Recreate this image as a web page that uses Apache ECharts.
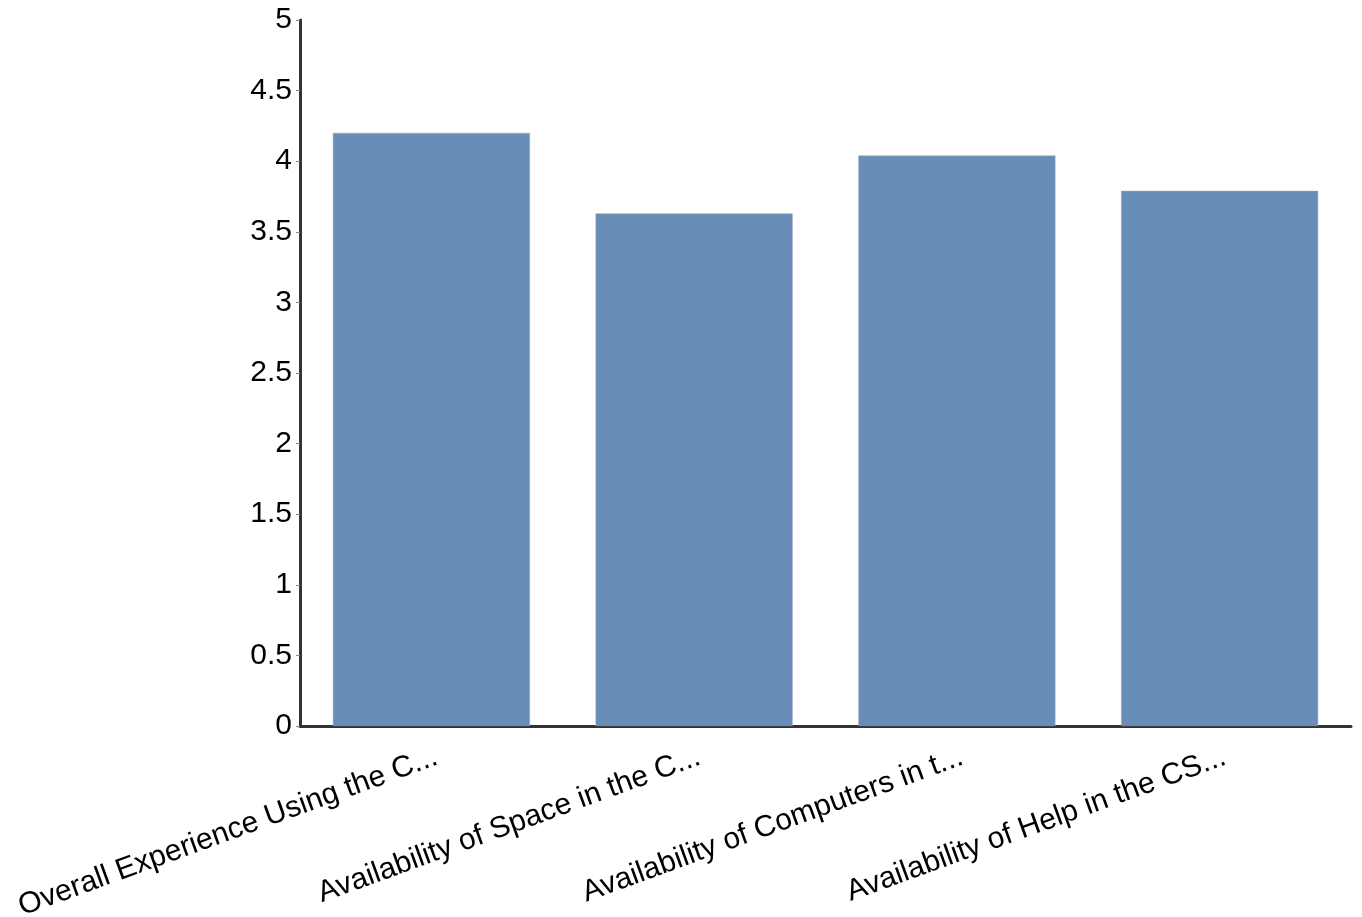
<!DOCTYPE html>
<html>
<head>
<meta charset="utf-8">
<script src="https://cdn.jsdelivr.net/npm/echarts@6/dist/echarts.min.js"></script>
<style>
html,body{margin:0;padding:0;background:#fff;}
#chart{width:1362px;height:917px;}
</style>
</head>
<body>
<div id="chart"></div>
<script>
const categories = [
  "Overall Experience Using the C...",
  "Availability of Space in the C...",
  "Availability of Computers in t...",
  "Availability of Help in the CS..."
];
const values = [4.2, 3.63, 4.04, 3.79];
const yTicks = [0, 0.5, 1, 1.5, 2, 2.5, 3, 3.5, 4, 4.5, 5];

const chart = echarts.init(document.getElementById('chart'));
chart.setOption({
  animation: false,
  backgroundColor: '#ffffff',
  grid: { left: 300, right: 11, top: 20, bottom: 191, containLabel: false, outerBoundsMode: 'none' },
  xAxis: {
    type: 'category',
    data: categories,
    axisLine: { lineStyle: { color: '#333333', width: 3 } },
    axisTick: { alignWithLabel: true, length: 4, lineStyle: { color: '#888888' } },
    axisLabel: {
      rotate: 20,
      margin: 16,
      verticalAlign: 'top',
      color: '#000000',
      fontFamily: 'Liberation Sans, Arial, sans-serif',
      fontSize: 30,
      interval: 0
    }
  },
  yAxis: {
    type: 'value',
    min: yTicks[0],
    max: yTicks[yTicks.length - 1],
    interval: 0.5,
    splitLine: { show: false },
    axisLine: { show: true, lineStyle: { color: '#333333', width: 3 } },
    axisTick: { show: true, length: 4, lineStyle: { color: '#888888' } },
    axisLabel: {
      color: '#000000',
      fontFamily: 'Liberation Sans, Arial, sans-serif',
      fontSize: 30,
      margin: 8
    }
  },
  series: [{
    type: 'bar',
    data: values,
    barCategoryGap: '25%',
    itemStyle: { color: '#688db7', borderColor: '#9aa8ba', borderWidth: 0.5 }
  }]
});
</script>
</body>
</html>
